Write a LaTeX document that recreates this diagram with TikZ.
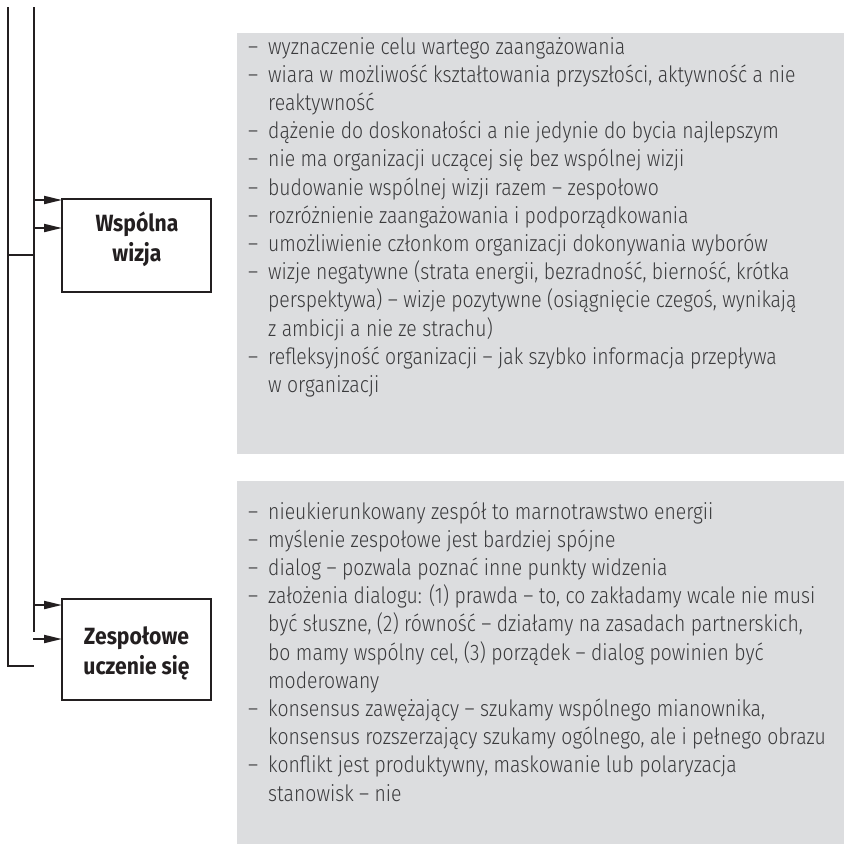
\documentclass[tikz,border=0pt]{standalone}
\usepackage{fontspec}
\newfontfamily\bodyfont{Fira Sans Light}[FakeStretch=0.862]
\newfontfamily\headfont{Fira Sans}[FakeStretch=0.9]
\usetikzlibrary{arrows.meta}
\definecolor{panelgray}{HTML}{DCDDDF}
\definecolor{ink}{HTML}{231F20}
\definecolor{bodyink}{HTML}{3A3A3C}
% one list line: dash + text, or an indented continuation line
\newcommand\dashline[1]{\hbox{\makebox[20pt][l]{–}#1}}
\newcommand\contline[1]{\hbox{\hspace*{20pt}#1}}
\begin{document}
\begin{tikzpicture}[x=1pt,y=-1pt,
  conn/.style={draw=ink,line width=2pt},
  arr/.style={conn,-{Triangle[length=18pt,width=8pt]}},
  panel/.style={fill=panelgray,draw=none,inner sep=0pt,outer sep=0pt,anchor=north west},
  topicbox/.style={draw=ink,line width=1.5pt,fill=white,inner sep=0pt,outer sep=0pt,
    minimum width=149pt},
  topiclabel/.style={align=center,text=ink,inner sep=0pt,
    font={\headfont\bfseries\fontsize{23.5}{30}\selectfont}},
  listtext/.style={anchor=base west,inner sep=0pt,text=bodyink,
    font={\bodyfont\fontsize{22.5}{28.2}\selectfont}}]
\useasboundingbox (0,0) rectangle (844,844);

% grey panels
\node[panel,minimum width=607pt,minimum height=421pt] (panelA) at (237,33) {};
\node[panel,minimum width=607pt,minimum height=363pt] (panelB) at (237,481) {};

% topic boxes
\node[topicbox,minimum height=93pt] (boxA) at (136.5,245.5) {};
\node[topicbox,minimum height=101pt] (boxB) at (136.5,649.5) {};
\node[topiclabel] (labA) at (137,239) {Wspólna\\wizja};
\node[topiclabel] (labB) at (136.5,653) {Zespołowe\\uczenie się};

% vertical feed lines
\coordinate (outerTop) at (8,7);
\coordinate (outerBot) at (8,666);
\coordinate (innerTop) at (34,7);
\coordinate (innerBot) at (34,632);
\coordinate (innerFoot) at (34,666);
\coordinate (joinL) at (8,255);
\coordinate (joinR) at (34,255);
\draw[conn] (outerTop) -- (outerBot) -- (innerFoot);
\draw[conn] (innerTop) -- (innerBot);
\draw[conn] (joinL) -- (joinR);

% arrows into the boxes
\coordinate (a1) at (34,200);
\coordinate (a2) at (34,228);
\coordinate (a3) at (34,605);
\coordinate (a4) at (33,639);
\draw[arr] (a1) -- (a1 -| boxA.west);
\draw[arr] (a2) -- (a2 -| boxA.west);
\draw[arr] (a3) -- (a3 -| boxB.west);
\draw[arr] (a4) -- (a4 -| boxB.west);

% list texts
\node[listtext] (listA) at (248,54) {\vtop{%
\dashline{wyznaczenie celu wartego zaangażowania}
\dashline{wiara w możliwość kształtowania przyszłości, aktywność a nie}
\contline{reaktywność}
\dashline{dążenie do doskonałości a nie jedynie do bycia najlepszym}
\dashline{nie ma organizacji uczącej się bez wspólnej wizji}
\dashline{budowanie wspólnej wizji razem – zespołowo}
\dashline{rozróżnienie zaangażowania i podporządkowania}
\dashline{umożliwienie członkom organizacji dokonywania wyborów}
\dashline{wizje negatywne (strata energii, bezradność, bierność, krótka}
\contline{perspektywa) – wizje pozytywne (osiągnięcie czegoś, wynikają}
\contline{z ambicji a nie ze strachu)}
\dashline{refleksyjność organizacji – jak szybko informacja przepływa}
\contline{w organizacji}}};

\node[listtext] (listB) at (248,519) {\vtop{%
\dashline{nieukierunkowany zespół to marnotrawstwo energii}
\dashline{myślenie zespołowe jest bardziej spójne}
\dashline{dialog – pozwala poznać inne punkty widzenia}
\dashline{założenia dialogu: (1) prawda – to, co zakładamy wcale nie musi}
\contline{być słuszne, (2) równość – działamy na zasadach partnerskich,}
\contline{bo mamy wspólny cel, (3) porządek – dialog powinien być}
\contline{moderowany}
\dashline{konsensus zawężający – szukamy wspólnego mianownika,}
\contline{konsensus rozszerzający szukamy ogólnego, ale i pełnego obrazu}
\dashline{konflikt jest produktywny, maskowanie lub polaryzacja}
\contline{stanowisk – nie}}};
\end{tikzpicture}
\end{document}
